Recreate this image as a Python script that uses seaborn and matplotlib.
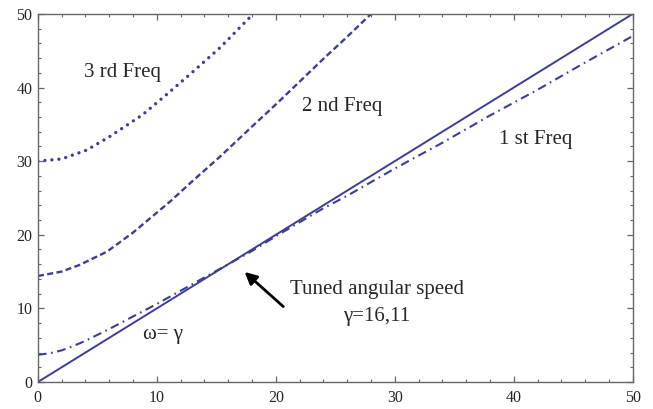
import matplotlib
matplotlib.use("Agg")
import matplotlib.pyplot as plt
import seaborn as sns
from matplotlib.ticker import MultipleLocator

# Data
gamma_line = [0, 50]
omega_line = [0, 50]

x_first = [0, 1, 2, 3, 4, 5, 6, 8, 10, 12, 14, 16, 18, 20, 22, 24, 26, 30, 34, 38, 42, 46, 50]
y_first = [3.7, 3.9, 4.3, 4.9, 5.6, 6.4, 7.2, 8.9, 10.6, 12.4, 14.2, 16.0, 17.8, 19.8, 21.7,
           23.6, 25.3, 29.0, 32.5, 36.2, 39.7, 43.4, 47.0]

x_second = [0, 2, 3.5, 5.8, 8, 11.1, 13, 15.3, 18, 20, 22, 24, 26, 28.0]
y_second = [14.4, 15.0, 15.9, 17.7, 20.3, 24.5, 27.3, 30.6, 34.7, 37.7, 40.8, 43.9, 46.9, 50.0]

x_third = [0, 2, 4.1, 6, 8.8, 11, 13, 15.3, 18.1]
y_third = [30.0, 30.3, 31.5, 33.3, 36.3, 39.3, 42.1, 45.4, 50.0]

color = "#3d3d99"

sns.set_style("ticks")
plt.rcParams["font.family"] = ["Liberation Serif", "DejaVu Serif"]

fig = plt.figure(figsize=(6.53, 4.09), dpi=100)
ax = fig.add_axes([0.058, 0.066, 0.911, 0.900])

sns.lineplot(x=gamma_line, y=omega_line, ax=ax, color=color, lw=1.4, estimator=None, sort=False)
sns.lineplot(x=x_first, y=y_first, ax=ax, color=color, lw=1.5, estimator=None, sort=False)
ax.lines[-1].set_linestyle((0, (4.2, 2.2, 0.8, 2.2)))
sns.lineplot(x=x_second, y=y_second, ax=ax, color=color, lw=1.7, estimator=None, sort=False)
ax.lines[-1].set_linestyle((0, (2.6, 1.4)))
sns.lineplot(x=x_third, y=y_third, ax=ax, color=color, lw=2.4, estimator=None, sort=False)
ax.lines[-1].set_linestyle((0, (0.01, 2.1)))
ax.lines[-1].set_dash_capstyle("round")

ax.set_xlim(0, 50)
ax.set_ylim(0, 50)
ax.xaxis.set_major_locator(MultipleLocator(10))
ax.xaxis.set_minor_locator(MultipleLocator(2))
ax.yaxis.set_major_locator(MultipleLocator(10))
ax.yaxis.set_minor_locator(MultipleLocator(2))
ax.tick_params(which="both", direction="in", top=True, right=True, color="#666666",
               labelsize=11.5)
ax.tick_params(axis="x", pad=6)
ax.tick_params(axis="y", pad=4)
ax.tick_params(which="major", length=4.5, width=0.9)
ax.tick_params(which="minor", length=2.5, width=0.8)
for s in ax.spines.values():
    s.set_color("#666666")
    s.set_linewidth(1.0)

fs = 15
ax.text(7.1, 42.1, "3 rd Freq", fontsize=fs, ha="center", va="center")
ax.text(25.6, 37.4, "2 nd Freq", fontsize=fs, ha="center", va="center")
ax.text(41.8, 32.9, "1 st Freq", fontsize=fs, ha="center", va="center")
ax.text(10.5, 6.4, "ω= γ", fontsize=fs, ha="center", va="center")
ax.text(28.5, 12.5, "Tuned angular speed", fontsize=fs, ha="center", va="center")
ax.text(28.5, 8.9, "γ=16,11", fontsize=fs, ha="center", va="center")
ax.annotate("", xy=(17.2, 15.2), xytext=(20.8, 10.0),
            arrowprops=dict(arrowstyle="-|>", color="black", lw=2.0, mutation_scale=18))

fig.savefig("out.png", dpi=100)
